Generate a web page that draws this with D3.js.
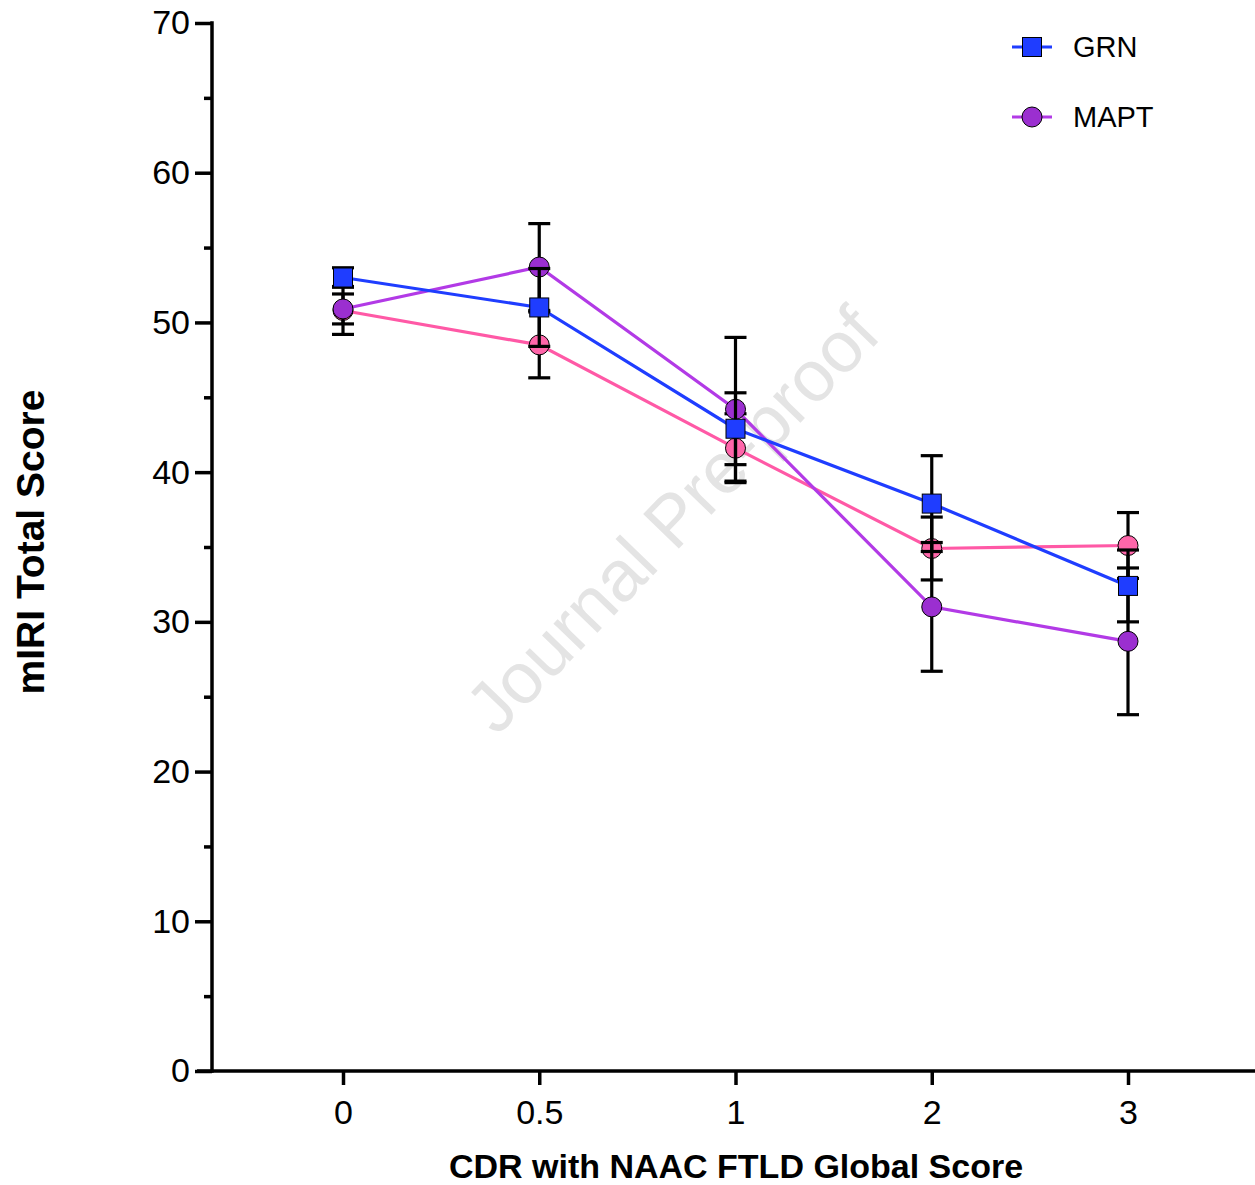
<!DOCTYPE html>
<html>
<head>
<meta charset="utf-8">
<script src="https://cdn.jsdelivr.net/npm/d3@7"></script>
<style>
  html, body { margin: 0; padding: 0; background: #fff; }
  svg { display: block; }
  text { font-family: Arial, "Liberation Sans", Helvetica, sans-serif; }
</style>
</head>
<body>
<svg id="chart" width="1255" height="1185"></svg>
<script>
// ---- data ----
const categories = ["0", "0.5", "1", "2", "3"];
const grnMean = [53.0, 51.0, 42.9, 37.9, 32.4];
const grnErr  = [0.65, 2.6, 2.4, 3.2, 2.4];
const maptMean = [50.9, 53.7, 44.2, 31.0, 28.7];
const maptErr  = [1.0, 2.9, 4.8, 4.3, 4.9];
const c9Mean = [50.8, 48.5, 41.6, 34.9, 35.1];
const c9Err  = [1.6, 2.2, 2.3, 2.1, 2.2];
const yTicks = [0, 10, 20, 30, 40, 50, 60, 70];
const yMinorTicks = [5, 15, 25, 35, 45, 55, 65];
const legendNames = ["GRN", "MAPT"];

const series = [
  { name: "C9orf72", mean: c9Mean, err: c9Err, line: "#ff59a6", fill: "#ff66aa", shape: "circle" },
  { name: "MAPT", mean: maptMean, err: maptErr, line: "#b23ae6", fill: "#9b2fd0", shape: "circle" },
  { name: "GRN", mean: grnMean, err: grnErr, line: "#1f3dff", fill: "#1f3dff", shape: "square" }
];

const svg = d3.select("#chart");
const x = d3.scalePoint().domain(categories).range([343, 1128]);
const y = d3.scaleLinear().domain([0, 70]).range([1071, 23]);
const axisX0 = 212, axisY0 = 1071;

// watermark
svg.append("text")
  .attr("transform", "translate(690,537) rotate(-46)")
  .attr("text-anchor", "middle")
  .attr("font-size", 72)
  .attr("fill", "#e4e4e4")
  .text("Journal Pre-proof");

// y axis
const yAxis = svg.append("g").attr("transform", `translate(${axisX0},0)`)
  .call(d3.axisLeft(y).tickValues(yTicks).tickSize(17).tickPadding(5).tickFormat(d3.format("d")));
yAxis.select(".domain").remove();
yAxis.selectAll(".tick line").attr("stroke", "#000").attr("stroke-width", 3.5);
yAxis.selectAll(".tick text").attr("font-size", 34).attr("fill", "#000");
const yMinor = svg.append("g").attr("transform", `translate(${axisX0},0)`)
  .call(d3.axisLeft(y).tickValues(yMinorTicks).tickSize(8).tickFormat(""));
yMinor.select(".domain").remove();
yMinor.selectAll(".tick line").attr("stroke", "#000").attr("stroke-width", 3.5);
svg.append("line").attr("x1", axisX0).attr("x2", axisX0).attr("y1", y(70) - 1.75).attr("y2", axisY0 + 1.75)
  .attr("stroke", "#000").attr("stroke-width", 3.5);

// x axis
const xAxis = svg.append("g").attr("transform", `translate(0,${axisY0})`)
  .call(d3.axisBottom(x).tickSize(14).tickPadding(15));
xAxis.select(".domain").remove();
xAxis.selectAll(".tick line").attr("stroke", "#000").attr("stroke-width", 3.5);
xAxis.selectAll(".tick text").attr("font-size", 34).attr("fill", "#000");
svg.append("line").attr("x1", 197).attr("x2", 1255).attr("y1", axisY0).attr("y2", axisY0)
  .attr("stroke", "#000").attr("stroke-width", 3.5);

// axis titles
svg.append("text").attr("x", 736).attr("y", 1178).attr("text-anchor", "middle")
  .attr("font-size", 34).attr("font-weight", "bold").text("CDR with NAAC FTLD Global Score");
svg.append("text").attr("transform", "translate(44,542) rotate(-90)").attr("text-anchor", "middle")
  .attr("font-size", 39).attr("font-weight", "bold").text("mIRI Total Score");

// lines
const lineGen = d3.line().x((d, i) => x(categories[i])).y(d => y(d));
series.forEach(s => {
  svg.append("path").datum(s.mean).attr("d", lineGen)
    .attr("fill", "none").attr("stroke", s.line).attr("stroke-width", 3.2);
});

function drawMarker(g, shape, cx, cy, fill) {
  if (shape === "square") {
    g.append("rect").attr("x", cx - 9.5).attr("y", cy - 9.5).attr("width", 19).attr("height", 19)
      .attr("fill", fill).attr("stroke", "#000").attr("stroke-width", 1);
  } else {
    g.append("circle").attr("cx", cx).attr("cy", cy).attr("r", 10)
      .attr("fill", fill).attr("stroke", "#000").attr("stroke-width", 1);
  }
}

// error bars then markers, series by series
series.forEach(s => {
  const g = svg.append("g").attr("stroke", "#000").attr("stroke-width", 3.2);
  s.mean.forEach((m, i) => {
    const cx = x(categories[i]);
    const hi = y(m + s.err[i]), lo = y(m - s.err[i]);
    g.append("line").attr("x1", cx).attr("x2", cx).attr("y1", hi).attr("y2", lo);
    g.append("line").attr("x1", cx - 11).attr("x2", cx + 11).attr("y1", hi).attr("y2", hi);
    g.append("line").attr("x1", cx - 11).attr("x2", cx + 11).attr("y1", lo).attr("y2", lo);
  });
  const gm = svg.append("g");
  s.mean.forEach((m, i) => drawMarker(gm, s.shape, x(categories[i]), y(m), s.fill));
});

// legend
const legendY = [47, 117];
legendNames.forEach((name, i) => {
  const s = series.find(d => d.name === name);
  const g = svg.append("g");
  g.append("line").attr("x1", 1012).attr("x2", 1052).attr("y1", legendY[i]).attr("y2", legendY[i])
    .attr("stroke", s.line).attr("stroke-width", 3.2);
  drawMarker(g, s.shape, 1032, legendY[i], s.fill);
  g.append("text").attr("x", 1073).attr("y", legendY[i]).attr("dy", "0.35em")
    .attr("font-size", 29).attr("fill", "#000").text(name);
});
</script>
</body>
</html>
